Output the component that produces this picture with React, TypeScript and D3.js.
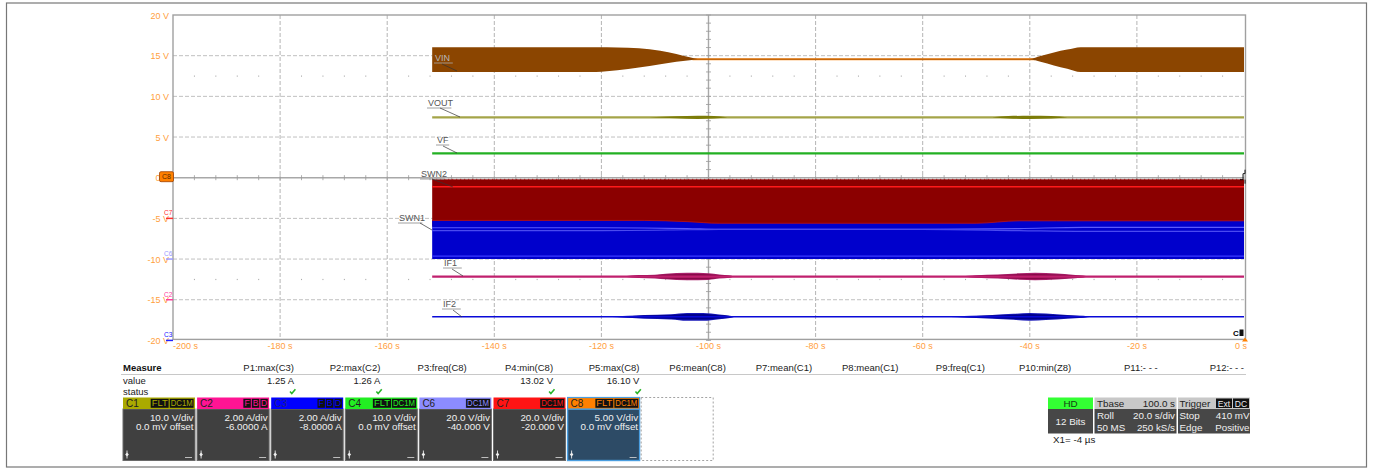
import React from 'react';
import * as d3 from 'd3';

// ---------- DATA ----------
const xTicks = [-200, -180, -160, -140, -120, -100, -80, -60, -40, -20, 0];
const yTicks = [20, 15, 10, 5, 0, -5, -10, -15, -20];

// VIN envelope: [time s, high V, low V]
const vinBand: [number, number, number][] = [
  [-151.6, 16.05, 13.0], [-121, 16.05, 13.0], [-117, 16.02, 13.2], [-113, 15.9, 13.55],
  [-109, 15.6, 13.95], [-106, 15.2, 14.25], [-103.5, 14.8, 14.45], [-102, 14.62, 14.52],
  [-40, 14.62, 14.52], [-38, 14.95, 14.25], [-35.5, 15.4, 13.8], [-33, 15.75, 13.4],
  [-30.5, 16.05, 13.0], [0, 16.05, 13.0],
];
const vinLevel = 14.57;
const vinStart = -151.6;

const voutLevel = 7.42;
const voutBulge: [number, number][] = [
  [-111, 0], [-106, 0.12], [-102, 0.2], [-99, 0.15], [-96.5, 0],
  [-47, 0], [-44, 0.15], [-40, 0.2], [-36, 0.15], [-33, 0],
];
const vfLevel = 3.0;

// SWN2 / SWN1 bands
const swn2Top = -0.2;
const swn2Line = -1.1;
const swnBoundary: [number, number][] = [
  [-151.6, -5.25], [-112, -5.25], [-104, -5.4], [-98, -5.6], [-50, -5.6], [-42, -5.3], [-35, -5.3], [0, -5.3],
];
const swn1Bottom = -10.0;
const swn1Bright = -9.65;
const swn1LightA: [number, number][] = [[-151.6, -6.15], [-120, -6.15], [-104, -6.25], [-98, -6.35], [-60, -6.35], [-42, -6.25], [-30, -6.1], [0, -6.1]];
const swn1LightB: [number, number][] = [[-151.6, -6.5], [-120, -6.5], [-104, -6.4], [-98, -6.35], [-60, -6.35], [-42, -6.5], [-30, -6.6], [0, -6.6]];

// IF1 / IF2 lines with their bursts: [time s, half width V]
const if1Level = -12.15;
const if1Burst: [number, number][] = [
  [-116, 0], [-113, 0.16], [-110, 0.2], [-108, 0.3], [-104, 0.4], [-100, 0.36], [-98, 0.22], [-96, 0.12], [-95, 0],
  [-53, 0], [-50, 0.14], [-46, 0.22], [-42, 0.34], [-39, 0.4], [-35, 0.32], [-32, 0.2], [-30, 0.1], [-29, 0],
];
const if2Level = -17.1;
const if2Burst: [number, number][] = [
  [-119, 0], [-115, 0.1], [-112, 0.2], [-107, 0.28], [-104, 0.42], [-101, 0.42], [-98, 0.25], [-96, 0.12], [-95, 0],
  [-56, 0], [-51, 0.1], [-47, 0.2], [-43, 0.32], [-40, 0.42], [-37, 0.35], [-33, 0.2], [-30, 0.1], [-28.5, 0],
];

const traceLabels = ['VIN', 'VOUT', 'VF', 'SWN2', 'SWN1', 'IF1', 'IF2'];

// Measurements
const measureNames = ['P1:max(C3)', 'P2:max(C2)', 'P3:freq(C8)', 'P4:min(C8)', 'P5:max(C8)', 'P6:mean(C8)',
  'P7:mean(C1)', 'P8:mean(C1)', 'P9:freq(C1)', 'P10:min(Z8)', 'P11:- - -', 'P12:- - -'];
const measureValues = ['1.25 A', '1.26 A', '', '13.02 V', '16.10 V', '', '', '', '', '', '', ''];
const measureStatus = [true, true, false, true, true, false, false, false, false, false, false, false];

// Channels
const channelNames = ['C1', 'C2', 'C3', 'C4', 'C6', 'C7', 'C8'];
const channelScales = ['10.0 V/div', '2.00 A/div', '2.00 A/div', '10.0 V/div', '20.0 V/div', '20.0 V/div', '5.00 V/div'];
const channelOffsets = ['0.0 mV offset', '-6.0000 A', '-8.0000 A', '0.0 mV offset', '-40.000 V', '-20.000 V', '0.0 mV offset'];
const channelBadges = [['FLT', 'DC1M'], ['F', 'B', 'D'], ['F', 'B', 'D'], ['FLT', 'DC1M'], ['DC1M'], ['DC1M'], ['FLT', 'DC1M']];

// Left channel markers: [name, volts]
const leftMarkers: [string, number][] = [['C7', -5], ['C6', -10], ['C2', -15], ['C3', -20]];

// ---------- STYLE ----------
const FONT = '"Liberation Sans", Arial, sans-serif';
const AXIS_ORANGE = '#ffa040';
const chColors: Record<string, string> = {
  C1: '#aaaa00', C2: '#ff1493', C3: '#0000ff', C4: '#22ee22', C6: '#8c8cff', C7: '#ff1414', C8: '#ff8000',
};
const markerColors: Record<string, string> = { C7: '#ff3030', C6: '#9a9aff', C2: '#ff3c9c', C3: '#2020ff' };

const W = 1375, H = 471;
const PL = 173, PR = 1244, PT = 15, PB = 340.4;

const x = d3.scaleLinear().domain([-200, 0]).range([PL, PR]);
const y = d3.scaleLinear().domain([-20, 20]).range([PB, PT]);

function bandPath(data: [number, number, number][]) {
  return d3.area<[number, number, number]>()
    .x(d => x(d[0])).y0(d => y(d[2])).y1(d => y(d[1]))
    .curve(d3.curveMonotoneX)(data) || '';
}
function burstPath(level: number, data: [number, number][], scale = 1) {
  const segs: [number, number][][] = [];
  let cur: [number, number][] = [];
  data.forEach((p) => {
    cur.push(p);
    if (p[1] === 0 && cur.length > 1) { segs.push(cur); cur = []; }
  });
  return segs.map(s => d3.area<[number, number]>()
    .x(d => x(d[0])).y0(d => y(level - d[1] * scale)).y1(d => y(level + d[1] * scale))
    .curve(d3.curveMonotoneX)(s) || '').join(' ');
}
function linePath(data: [number, number][]) {
  return d3.line<[number, number]>().x(d => x(d[0])).y(d => y(d[1])).curve(d3.curveMonotoneX)(data) || '';
}

export default function App() {
  const gridX = xTicks.slice(1, -1);
  const gridY = yTicks.slice(1, -1);
  const minorX = d3.range(-200, 0.01, 4);
  const minorY = d3.range(-20, 20.01, 1);

  // label layout: [textX, textY, leaderFromX, leaderFromY, leaderToX, leaderToY]
  const labelLayout: Record<string, number[]> = {
    VIN: [435, 61, 442, 64, 457, 71],
    VOUT: [428, 106, 440, 108, 460, 117],
    VF: [437, 143, 443, 146, 457, 153],
    SWN2: [421, 177, 432, 179, 453, 187],
    SWN1: [399, 221, 420, 223, 432, 230],
    IF1: [444, 266, 452, 269, 463, 276],
    IF2: [443, 307, 453, 310, 462, 317],
  };

  const mStep = (1244 - 294) / 11;
  const boxX0 = 123, boxStep = 74.1, boxW = 72;
  const boxTop = 397.5, hdrH = 11.5, boxBot = 460.5;

  return (
    <svg width={W} height={H} style={{ position: 'absolute', left: 0, top: 0, background: '#fff' }}
      fontFamily={FONT}>
      <rect x={0} y={0} width={W} height={H} fill="#fff" />
      {/* outer frame */}
      <rect x={6.5} y={3} width={1360} height={464} fill="none" stroke="#777" strokeWidth={1.2} />

      {/* grid */}
      <g>
        {gridX.filter(t => t !== -100).map(t => (
          <line key={'gx' + t} x1={x(t)} x2={x(t)} y1={PT} y2={PB} stroke="#b4b4b4" strokeWidth={1} strokeDasharray="4,2" />
        ))}
        {gridY.filter(v => v !== 0).map(v => (
          <line key={'gy' + v} x1={PL} x2={PR} y1={y(v)} y2={y(v)} stroke="#c0c0c0" strokeWidth={1} strokeDasharray="4,2" />
        ))}
        {[12.5, -12.5].map(v => minorX.filter((t, i) => i % 5 !== 0).map(t => (
          <rect key={'d' + v + t} x={x(t) - 0.5} y={y(v) - 0.5} width={1} height={1.2} fill="#aaa" />
        )))}
        <line x1={PL} x2={PR} y1={y(0)} y2={y(0)} stroke="#a8a8a8" strokeWidth={1.6} />
        <line x1={x(-100)} x2={x(-100)} y1={PT} y2={PB} stroke="#a8a8a8" strokeWidth={1.4} />
        {minorX.map(t => (
          <line key={'mx' + t} x1={x(t)} x2={x(t)} y1={y(0) - 2.5} y2={y(0) + 2.5} stroke="#999" strokeWidth={0.8} />
        ))}
        {minorY.map(v => (
          <line key={'my' + v} x1={x(-100) - 2.5} x2={x(-100) + 2.5} y1={y(v)} y2={y(v)} stroke="#999" strokeWidth={0.8} />
        ))}
        <rect x={PL} y={PT} width={PR - PL + 1.5} height={PB - PT - 1} fill="none" stroke="#a0a0a0" strokeWidth={1.4} />
      </g>

      {/* traces */}
      <g>
        <line x1={x(-103)} x2={x(-39)} y1={y(vinLevel)} y2={y(vinLevel)} stroke="#ff8c1a" strokeWidth={2} />
        <path d={bandPath(vinBand)} fill="#8b4500" />
        <line x1={x(vinStart)} x2={x(0)} y1={y(voutLevel)} y2={y(voutLevel)} stroke="#a4a448" strokeWidth={2.4} />
        <path d={burstPath(voutLevel, voutBulge)} fill="#7c7c08" />
        <line x1={x(vinStart)} x2={x(0)} y1={y(vfLevel)} y2={y(vfLevel)} stroke="#22b022" strokeWidth={2.2} />
        <rect x={x(vinStart)} y={y(swn2Top)} width={x(0) - x(vinStart)} height={y(-6) - y(swn2Top)} fill="#8b0000" />
        <line x1={x(vinStart)} x2={x(0)} y1={y(swn2Top)} y2={y(swn2Top)} stroke="#a01010" strokeWidth={1} strokeDasharray="1,3" />
        <line x1={x(vinStart)} x2={x(0)} y1={y(swn2Line)} y2={y(swn2Line)} stroke="#ff1a1a" strokeWidth={1.5} />
        <path d={(d3.area<[number, number]>().x(d => x(d[0])).y0(y(swn1Bottom)).y1(d => y(d[1])).curve(d3.curveMonotoneX)(swnBoundary)) || ''} fill="#0000cc" />
        <path d={linePath(swnBoundary)} fill="none" stroke="#c01010" strokeWidth={0.8} />
        <path d={linePath(swn1LightA)} fill="none" stroke="#5a5aff" strokeWidth={1.2} />
        <path d={linePath(swn1LightB)} fill="none" stroke="#4a4af0" strokeWidth={1.2} />
        <line x1={x(vinStart)} x2={x(0)} y1={y(swn1Bright)} y2={y(swn1Bright)} stroke="#3a3aff" strokeWidth={1.2} />
        <path d={burstPath(if1Level, if1Burst, 1.15)} fill="#a8206a" />
        <path d={burstPath(if1Level, if1Burst, 0.8)} fill="#880848" />
        <line x1={x(vinStart)} x2={x(0)} y1={y(if1Level)} y2={y(if1Level)} stroke="#c0206e" strokeWidth={2.2} />
        <path d={burstPath(if2Level, if2Burst, 1.15)} fill="#1818b8" />
        <path d={burstPath(if2Level, if2Burst, 0.8)} fill="#00008c" />
        <line x1={x(vinStart)} x2={x(0)} y1={y(if2Level)} y2={y(if2Level)} stroke="#0a0ad8" strokeWidth={1.6} />
      </g>

      {/* trace labels */}
      <g fontSize={9}>
        {traceLabels.map(n => {
          const l = labelLayout[n];
          const w = n.length * 5.6 + 1;
          const onDark = n === 'VIN';
          return (
            <g key={n}>
              <text x={l[0]} y={l[1]} fill={onDark ? '#b8b8b8' : '#555'}>{n}</text>
              <line x1={l[0] - 1} x2={l[0] + w} y1={l[1] + 2} y2={l[1] + 2} stroke={onDark ? '#aaa' : '#888'} strokeWidth={0.8} />
              <line x1={l[2]} y1={l[3]} x2={l[4]} y2={l[5]} stroke="#333" strokeWidth={0.7} />
            </g>
          );
        })}
      </g>

      {/* y axis labels */}
      <g fontSize={9} fill={AXIS_ORANGE} textAnchor="end">
        {yTicks.map(v => (
          <text key={'yl' + v} x={169} y={y(v) + 3.5}>{`${v} V`}</text>
        ))}
      </g>
      {/* x axis labels */}
      <g fontSize={9} fill={AXIS_ORANGE}>
        {xTicks.map((t, i) => (
          <text key={'xl' + t} x={x(t)} y={349}
            textAnchor={i === 0 ? 'start' : i === xTicks.length - 1 ? 'end' : 'middle'}
            dx={i === xTicks.length - 1 ? 3 : 0}>{`${t} s`}</text>
        ))}
      </g>

      {/* left channel markers */}
      <g>
        <rect x={159.5} y={y(0) - 6} width={14} height={10} rx={1.5} fill="#ff8000" stroke="#a04000" strokeWidth={0.8} />
        <text x={162} y={y(0) + 1.5} fontSize={7} fill="#5a2a00">C8</text>
        {leftMarkers.map(([n, v]) => (
          <g key={n}>
            <line x1={166} x2={173} y1={y(v)} y2={y(v)} stroke={markerColors[n]} strokeWidth={1.5} />
            <text x={164} y={y(v) - 3} fontSize={6.5} fill={markerColors[n]}>{n}</text>
          </g>
        ))}
      </g>

      {/* right edge markers */}
      <path d={`M${x(0) - 4},${y(0) + 2} L${x(0) - 1},${y(0) + 2} L${x(0) - 1},${y(0) - 4} L${x(0) + 1},${y(0) - 4} L${x(0) + 1},${y(0) - 8}`}
        fill="none" stroke="#000" strokeWidth={0.9} />
      <line x1={x(0) + 1} x2={x(0) + 1} y1={y(0) + 2} y2={y(0) + 6} stroke="#000" strokeWidth={0.9} />
      <text x={x(0) - 11} y={336} fontSize={8} fontWeight="bold" fill="#000">C</text>
      <rect x={x(0) - 4.5} y={329.5} width={4} height={6.5} fill="#111" />
      <path d={`M${x(0) - 2},${PB + 1} L${x(0) + 1},${PB - 3} L${x(0) + 4},${PB + 1} Z`} fill="#ff8000" />

      {/* measure table */}
      <g fontSize={9.5} fill="#222">
        <text x={123} y={371} fontWeight="bold" fill="#111">Measure</text>
        <text x={123} y={384}>value</text>
        <text x={123} y={395}>status</text>
        <line x1={121} x2={1246} y1={374.5} y2={374.5} stroke="#c8c8c8" strokeWidth={1.2} />
        {measureNames.map((m, i) => (
          <g key={m}>
            <text x={294 + i * mStep} y={371} textAnchor="end">{m}</text>
            {measureValues[i] && <text x={294 + i * mStep} y={384} textAnchor="end">{measureValues[i]}</text>}
            {measureStatus[i] && (
              <path d={`M${290 + i * mStep},${391.5} l1.8,2 l3.6,-4.2`} fill="none" stroke="#2ab52a" strokeWidth={1.6} />
            )}
          </g>
        ))}
      </g>

      {/* channel boxes */}
      <g>
        {channelNames.map((c, i) => {
          const bx = boxX0 + i * boxStep;
          const col = chColors[c];
          const isC8 = c === 'C8';
          const badges = channelBadges[i];
          const bw = (b: string) => (b.length === 1 ? 8.5 : b.length === 3 ? 19 : 25);
          let rx = bx + boxW - 0.5;
          const badgeEls = badges.slice().reverse().map((b, j) => {
            const w = bw(b);
            rx -= w;
            return (
              <g key={b + j}>
                <rect x={rx} y={boxTop + 1.2} width={w - 0.6} height={hdrH - 2.2} fill="#111" stroke={col} strokeWidth={0.4} />
                <text x={rx + (w - 0.6) / 2} y={boxTop + 8.8} fontSize={8.6} textAnchor="middle" fill={col}
                  textLength={b.length > 1 ? w - 3 : undefined} lengthAdjust="spacingAndGlyphs">{b}</text>
              </g>
            );
          });
          return (
            <g key={c}>
              <rect x={bx} y={boxTop + hdrH} width={boxW} height={boxBot - boxTop - hdrH}
                fill={isC8 ? '#2d4b66' : '#404040'} stroke={isC8 ? '#4a9ee0' : '#6a6a6a'} strokeWidth={isC8 ? 1.4 : 1} />
              <rect x={bx} y={boxTop} width={boxW} height={hdrH} fill={col} stroke={isC8 ? '#4a9ee0' : 'none'} strokeWidth={isC8 ? 1.2 : 0} />
              <text x={bx + 3} y={boxTop + 9.3} fontSize={10} fill={c === 'C3' ? '#202080' : '#222'}>{c}</text>
              {badgeEls}
              <text x={bx + boxW - 1.5} y={boxTop + 23} fontSize={9.8} textAnchor="end" fill="#f0f0f0">{channelScales[i]}</text>
              <text x={bx + boxW - 1.5} y={boxTop + 32.5} fontSize={9.8} textAnchor="end" fill="#f0f0f0">{channelOffsets[i]}</text>
              <line x1={bx + 4} x2={bx + 4} y1={boxBot - 10} y2={boxBot - 2} stroke="#eee" strokeWidth={0.9} />
              <path d={`M${bx + 4},${boxBot - 8} l-1.8,2 l1.8,2 l1.8,-2 Z`} fill="#eee" />
              <line x1={bx + boxW - 10} x2={bx + boxW - 3} y1={boxBot - 3} y2={boxBot - 3} stroke="#ccc" strokeWidth={0.9} />
            </g>
          );
        })}
        <rect x={boxX0 + 7 * boxStep - 0.5} y={boxTop} width={boxW} height={boxBot - boxTop}
          fill="none" stroke="#999" strokeWidth={0.9} strokeDasharray="2,2" />
      </g>

      {/* timebase / trigger panel */}
      <g fontSize={9.8}>
        <rect x={1048} y={397.5} width={45} height={11.5} fill="#33ff33" />
        <text x={1070.5} y={406.5} textAnchor="middle" fill="#114411">HD</text>
        <rect x={1048} y={409} width={45} height={24.5} fill="#474747" />
        <text x={1070.5} y={425} textAnchor="middle" fill="#f0f0f0">12 Bits</text>
        <rect x={1094.5} y={397.5} width={82} height={11.5} fill="#c8c8c8" />
        <text x={1097} y={406.5} fill="#222">Tbase</text>
        <text x={1175} y={406.5} textAnchor="end" fill="#222">100.0 s</text>
        <rect x={1094.5} y={409} width={82} height={24.5} fill="#474747" />
        <text x={1097} y={419} fill="#f0f0f0">Roll</text>
        <text x={1175} y={419} textAnchor="end" fill="#f0f0f0">20.0 s/div</text>
        <text x={1097} y={430.5} fill="#f0f0f0">50 MS</text>
        <text x={1175} y={430.5} textAnchor="end" fill="#f0f0f0">250 kS/s</text>
        <rect x={1178} y={397.5} width={72} height={11.5} fill="#c8c8c8" />
        <text x={1179.5} y={406.5} fill="#222">Trigger</text>
        <rect x={1216} y={398.5} width={16} height={9.5} fill="#111" />
        <text x={1224} y={406.5} textAnchor="middle" fontSize={8.5} fill="#eee">Ext</text>
        <rect x={1233} y={398.5} width={16} height={9.5} fill="#111" />
        <text x={1241} y={406.5} textAnchor="middle" fontSize={8.5} fill="#eee">DC</text>
        <rect x={1178} y={409} width={72} height={24.5} fill="#474747" />
        <text x={1179.5} y={419} fill="#f0f0f0">Stop</text>
        <text x={1249.5} y={419} textAnchor="end" fill="#f0f0f0">410 mV</text>
        <text x={1179.5} y={430.5} fill="#f0f0f0">Edge</text>
        <text x={1249.5} y={430.5} textAnchor="end" fill="#f0f0f0">Positive</text>
        <text x={1053} y={443} fill="#222">X1=  -4 µs</text>
      </g>
    </svg>
  );
}
